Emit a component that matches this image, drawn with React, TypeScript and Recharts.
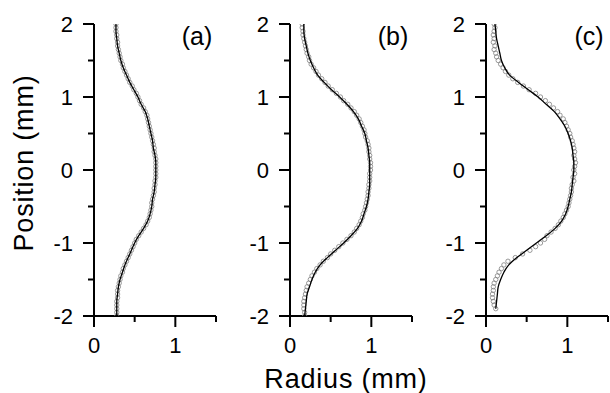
import React from "react";
import { ScatterChart, Scatter, XAxis, YAxis } from "recharts";

// positions along the axis (mm), markers every 0.05, fitted line every 0.1
const markerPos = [
  2, 1.95, 1.9, 1.85, 1.8, 1.75, 1.7, 1.65, 1.6, 1.55,
  1.5, 1.45, 1.4, 1.35, 1.3, 1.25, 1.2, 1.15, 1.1, 1.05,
  1, 0.95, 0.9, 0.85, 0.8, 0.75, 0.7, 0.65, 0.6, 0.55,
  0.5, 0.45, 0.4, 0.35, 0.3, 0.25, 0.2, 0.15, 0.1, 0.05,
  0, -0.05, -0.1, -0.15, -0.2, -0.25, -0.3, -0.35, -0.4, -0.45,
  -0.5, -0.55, -0.6, -0.65, -0.7, -0.75, -0.8, -0.85, -0.9, -0.95,
  -1, -1.05, -1.1, -1.15, -1.2, -1.25, -1.3, -1.35, -1.4, -1.45,
  -1.5, -1.55, -1.6, -1.65, -1.7, -1.75, -1.8, -1.85, -1.9, -1.95,
  -2,
];

const linePos = [
  2, 1.9, 1.8, 1.7, 1.6, 1.5, 1.4, 1.3, 1.2, 1.1,
  1, 0.9, 0.8, 0.7, 0.6, 0.5, 0.4, 0.3, 0.2, 0.1,
  0, -0.1, -0.2, -0.3, -0.4, -0.5, -0.6, -0.7, -0.8, -0.9,
  -1, -1.1, -1.2, -1.3, -1.4, -1.5, -1.6, -1.7, -1.8, -1.9,
  -2,
];

// measured radius (mm)
const markersA = [
  0.27, 0.27, 0.27, 0.28, 0.28, 0.29, 0.29, 0.3, 0.31, 0.32,
  0.33, 0.35, 0.36, 0.38, 0.4, 0.42, 0.44, 0.47, 0.49, 0.52,
  0.54, 0.56, 0.58, 0.61, 0.63, 0.65, 0.66, 0.67, 0.68, 0.69,
  0.7, 0.71, 0.72, 0.73, 0.74, 0.74, 0.75, 0.76, 0.76, 0.76,
  0.76, 0.76, 0.76, 0.75, 0.75, 0.74, 0.74, 0.73, 0.72, 0.71,
  0.71, 0.7, 0.69, 0.68, 0.66, 0.64, 0.61, 0.58, 0.55, 0.52,
  0.5, 0.48, 0.46, 0.44, 0.42, 0.4, 0.38, 0.36, 0.35, 0.33,
  0.32, 0.31, 0.3, 0.29, 0.29, 0.29, 0.28, 0.28, 0.28, 0.28,
  0.28,
];

const markersB = [
  0.15, 0.15, 0.16, 0.16, 0.17, 0.18, 0.19, 0.2, 0.21, 0.23,
  0.24, 0.26, 0.29, 0.32, 0.35, 0.39, 0.43, 0.47, 0.52, 0.57,
  0.62, 0.66, 0.71, 0.75, 0.79, 0.82, 0.85, 0.87, 0.89, 0.91,
  0.92, 0.93, 0.95, 0.96, 0.97, 0.97, 0.98, 0.98, 0.99, 0.99,
  0.99, 0.98, 0.98, 0.98, 0.97, 0.97, 0.96, 0.96, 0.95, 0.94,
  0.93, 0.92, 0.9, 0.89, 0.87, 0.85, 0.82, 0.79, 0.75, 0.7,
  0.65, 0.6, 0.55, 0.5, 0.46, 0.41, 0.37, 0.33, 0.3, 0.27,
  0.25, 0.23, 0.21, 0.2, 0.19, 0.18, 0.17, 0.17, 0.17, 0.18,
  0.18,
];

const markersC = [
  0.1, 0.11, 0.1, 0.09, 0.1, 0.09, 0.11, 0.1, 0.12, 0.13,
  0.15, 0.18, 0.21, 0.24, 0.28, 0.33, 0.39, 0.46, 0.53, 0.61,
  0.67, 0.73, 0.78, 0.83, 0.88, 0.91, 0.95, 0.97, 0.99, 1.01,
  1.03, 1.04, 1.06, 1.07, 1.08, 1.09, 1.08, 1.09, 1.1, 1.09,
  1.08, 1.09, 1.07, 1.08, 1.06, 1.05, 1.05, 1.04, 1.03, 1.02,
  1.01, 0.99, 0.97, 0.95, 0.92, 0.89, 0.85, 0.8, 0.75, 0.72,
  0.67, 0.61, 0.54, 0.45, 0.36, 0.27, 0.22, 0.19, 0.16, 0.14,
  0.12, 0.1, 0.09, 0.09, 0.08, 0.08, 0.09, 0.1, 0.12,
];

// fitted profile
const lineA = [
  0.27, 0.27, 0.28, 0.29, 0.31, 0.33, 0.36, 0.4, 0.44, 0.49,
  0.54, 0.58, 0.63, 0.66, 0.68, 0.7, 0.72, 0.73, 0.75, 0.76,
  0.76, 0.76, 0.75, 0.74, 0.72, 0.71, 0.69, 0.66, 0.61, 0.55,
  0.5, 0.46, 0.42, 0.38, 0.35, 0.32, 0.3, 0.29, 0.28, 0.28,
  0.28,
];

const lineB = [
  0.17, 0.17, 0.18, 0.2, 0.22, 0.25, 0.29, 0.34, 0.42, 0.51,
  0.61, 0.7, 0.78, 0.84, 0.88, 0.92, 0.94, 0.96, 0.97, 0.98,
  0.98, 0.98, 0.98, 0.97, 0.96, 0.94, 0.91, 0.88, 0.83, 0.75,
  0.66, 0.56, 0.46, 0.37, 0.31, 0.27, 0.24, 0.21, 0.2, 0.19,
  0.18,
];

const lineC = [
  0.11, 0.12, 0.13, 0.15, 0.17, 0.19, 0.23, 0.29, 0.4, 0.52,
  0.64, 0.74, 0.84, 0.91, 0.97, 1.01, 1.04, 1.06, 1.07, 1.08,
  1.08, 1.07, 1.06, 1.05, 1.03, 1.01, 0.98, 0.93, 0.85, 0.74,
  0.62, 0.5, 0.38, 0.28, 0.22, 0.18, 0.15, 0.14, 0.13, 0.12,
];

const panelLabels = ["(a)", "(b)", "(c)"];
const xTicks = [0, 0.5, 1, 1.5];
const yTicks = [-2, -1.5, -1, -0.5, 0, 0.5, 1, 1.5, 2];

const FONT = '"Liberation Sans", Arial, Helvetica, sans-serif';

const toPoints = (pos: number[], vals: number[]) =>
  vals.map((r, i) => ({ r, pos: pos[i] }));

const XTick = ({ x, y, payload }: any) => {
  const major = Number.isInteger(payload.value);
  return (
    <g>
      <line x1={x} x2={x} y1={y} y2={y + (major ? 11 : 6)} stroke="#000" strokeWidth={2} />
      {major && (
        <text x={x} y={y + 37} textAnchor="middle" fontSize={22} fontFamily={FONT} fill="#000">
          {payload.value}
        </text>
      )}
    </g>
  );
};

const YTick = ({ x, y, payload }: any) => {
  const major = Number.isInteger(payload.value);
  return (
    <g>
      <line x1={x - (major ? 11 : 6)} x2={x} y1={y} y2={y} stroke="#000" strokeWidth={2} />
      {major && (
        <text x={x - 21} y={y + 8} textAnchor="end" fontSize={22} fontFamily={FONT} fill="#000">
          {String(payload.value)}
        </text>
      )}
    </g>
  );
};

const Marker = (props: any) => (
  <circle cx={props.cx} cy={props.cy} r={2.2} fill="none" stroke="#808080" strokeWidth={0.8} />
);

const NoDot = () => <g />;

function Panel({ left, markers, line }: { left: number; markers: any[]; line: any[] }) {
  return (
    <div style={{ position: "absolute", left, top: 0 }}>
      <ScatterChart width={184} height={393} margin={{ top: 24, right: 2, bottom: 0, left: 0 }}>
        <XAxis
          type="number"
          dataKey="r"
          domain={[0, 1.5]}
          ticks={xTicks}
          interval={0}
          tickSize={0}
          tickMargin={0}
          tickLine={false}
          axisLine={{ stroke: "#000", strokeWidth: 2 }}
          tick={(p: any) => <XTick {...p} />}
          height={77}
          allowDataOverflow
        />
        <YAxis
          type="number"
          dataKey="pos"
          domain={[-2, 2]}
          ticks={yTicks}
          interval={0}
          tickSize={0}
          tickMargin={0}
          tickLine={false}
          axisLine={{ stroke: "#000", strokeWidth: 2 }}
          tick={(p: any) => <YTick {...p} />}
          width={60}
          allowDataOverflow
        />
        <Scatter data={markers} shape={Marker} isAnimationActive={false} />
        <Scatter
          data={line}
          shape={NoDot}
          line={{ stroke: "#000", strokeWidth: 1.3 }}
          lineJointType="monotoneY"
          isAnimationActive={false}
        />
      </ScatterChart>
    </div>
  );
}

export default function App() {
  const panels = [
    { left: 34, markers: toPoints(markerPos, markersA), line: toPoints(linePos, lineA) },
    { left: 230, markers: toPoints(markerPos, markersB), line: toPoints(linePos, lineB) },
    { left: 426, markers: toPoints(markerPos, markersC), line: toPoints(linePos, lineC) },
  ];
  return (
    <div style={{ position: "absolute", left: 0, top: 0, width: 610, height: 393, background: "#fff", overflow: "hidden" }}>
      {panels.map((p, i) => (
        <Panel key={i} left={p.left} markers={p.markers} line={p.line} />
      ))}
      <svg width={610} height={393} style={{ position: "absolute", left: 0, top: 0, pointerEvents: "none" }}>
        {panelLabels.map((label, i) => (
          <text key={label} x={197 + i * 196} y={45} textAnchor="middle" fontSize={25} fontFamily={FONT} fill="#000">
            {label}
          </text>
        ))}
        <text transform="translate(33,163) rotate(-90)" textAnchor="middle" fontSize={27} letterSpacing={0.8} fontFamily={FONT} fill="#000">
          Position (mm)
        </text>
        <text x={346} y={388} textAnchor="middle" fontSize={27} letterSpacing={0.8} fontFamily={FONT} fill="#000">
          Radius (mm)
        </text>
      </svg>
    </div>
  );
}
